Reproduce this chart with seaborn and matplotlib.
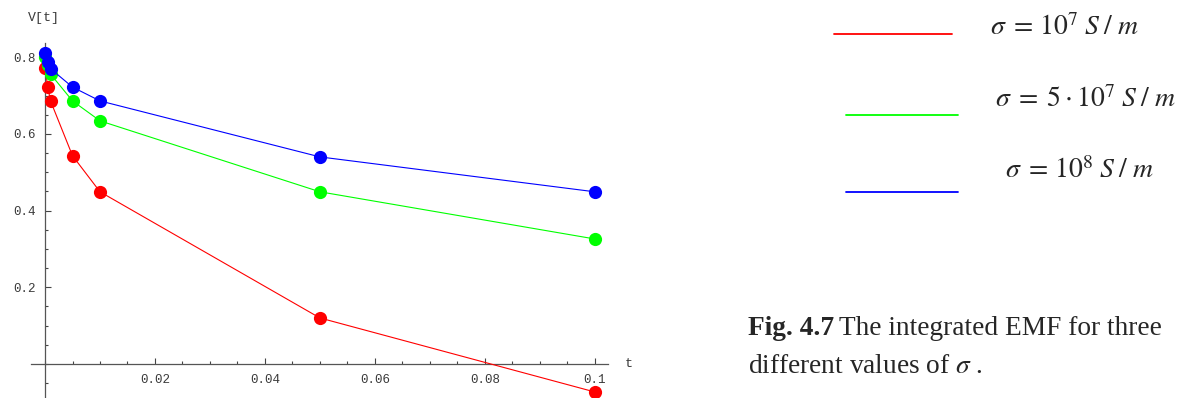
"""
Integrated EMF V[t] for three conductivities (Fig. 4.7 style).
Mathematica-like axes crossing at the origin, legend and caption as text.
"""

import matplotlib.pyplot as plt
from matplotlib.lines import Line2D
from matplotlib.ticker import FixedLocator, MultipleLocator, FixedFormatter
import pandas as pd
import seaborn as sns

# --- Data ----------------------------------------------------------------
T = [0.0, 0.0005, 0.001, 0.005, 0.01, 0.05, 0.1]
V_1E7 = [0.772, 0.722, 0.686, 0.543, 0.449, 0.120, -0.073]
V_5E7 = [0.800, 0.780, 0.756, 0.686, 0.634, 0.449, 0.326]
V_1E8 = [0.810, 0.788, 0.770, 0.722, 0.686, 0.540, 0.449]

SERIES = ["1e7", "5e7", "1e8"]
COLORS = {"1e7": "#ff0000", "5e7": "#00ff00", "1e8": "#0000ff"}
LEGEND_TEXT = {
    "1e7": r"$\sigma\;=\,10^{7}\;S\;/\;m$",
    "5e7": r"$\sigma\;=\;5\cdot 10^{7}\;S\;/\;m$",
    "1e8": r"$\sigma\;=\,10^{8}\;S\;/\;m$",
}

X_MAJOR = [0.02, 0.04, 0.06, 0.08, 0.1]
X_LABELS = ["0.02", "0.04", "0.06", "0.08", "0.1"]
Y_MAJOR = [0.2, 0.4, 0.6, 0.8]
Y_LABELS = ["0.2", "0.4", "0.6", "0.8"]

df = pd.DataFrame({
    "t": T * 3,
    "V": V_1E7 + V_5E7 + V_1E8,
    "sigma": [s for s in SERIES for _ in T],
})

sns.set_style("white")
plt.rcParams["mathtext.fontset"] = "stix"
plt.rcParams["font.family"] = ["Liberation Mono", "DejaVu Sans Mono"]

W, H = 1191, 398
fig = plt.figure(figsize=(W / 100, H / 100), dpi=100)
ax = fig.add_axes([31 / W, 0.0, (608 - 31) / W, 1 - 43 / H])

for s in SERIES:
    sub = df[df["sigma"] == s]
    sns.lineplot(data=sub, x="t", y="V", color=COLORS[s], ax=ax,
                 linewidth=0.8, marker="o", markersize=9.5,
                 markeredgewidth=0, clip_on=False, zorder=3)

ax.set_xlim(-0.00255, 0.1024)
ax.set_ylim(-0.0887, 0.837)
ax.set_xlabel("")
ax.set_ylabel("")

# axes through the origin
for side in ("top", "right"):
    ax.spines[side].set_visible(False)
ax.spines["left"].set_position(("data", 0))
ax.spines["bottom"].set_position(("data", 0))
for side in ("left", "bottom"):
    ax.spines[side].set_color("#555555")
    ax.spines[side].set_linewidth(0.9)

ax.xaxis.set_major_locator(FixedLocator(X_MAJOR))
ax.xaxis.set_major_formatter(FixedFormatter(X_LABELS))
ax.xaxis.set_minor_locator(MultipleLocator(0.005))
ax.yaxis.set_major_locator(FixedLocator(Y_MAJOR))
ax.yaxis.set_major_formatter(FixedFormatter(Y_LABELS))
ax.yaxis.set_minor_locator(MultipleLocator(0.05))
ax.tick_params(which="both", direction="in", color="#444444", width=0.8,
               bottom=True, left=True, labelsize=9, labelcolor="#3a3a3a")
ax.tick_params(which="major", length=4.5)
ax.tick_params(which="minor", length=2.5)
ax.tick_params(axis="x", pad=7.5)
ax.tick_params(axis="y", pad=7)

fig.text(44 / W, 1 - 18 / H, "V[t]", ha="center", va="center",
         fontsize=9.5, color="#3a3a3a")
fig.text(629 / W, 1 - 364 / H, "t", ha="center", va="center",
         fontsize=9.5, color="#3a3a3a")

# --- legend drawn as figure decoration -----------------------------------
legend_rows = {
    "1e7": ((834, 952, 34), (990, 35)),
    "5e7": ((846, 958, 115), (995, 107)),
    "1e8": ((846, 958, 192), (1005, 178)),
}
for s, ((x0, x1, yl), (xt, yt)) in legend_rows.items():
    fig.add_artist(Line2D([x0 / W, x1 / W], [1 - yl / H, 1 - yl / H],
                          color=COLORS[s], linewidth=1.3))
    fig.text(xt / W, 1 - yt / H, LEGEND_TEXT[s], ha="left", va="baseline",
             fontsize=20)

# --- caption -------------------------------------------------------------
serif = ["Liberation Serif", "DejaVu Serif"]
cap = fig.text(748 / W, 1 - 335 / H, "Fig. 4.7", ha="left", va="baseline",
               fontsize=19.7, fontweight="bold", family=serif)
fig.canvas.draw()
bb = cap.get_window_extent()
fig.text(bb.x1 / W + 5 / W, 1 - 335 / H,
         "The integrated EMF for three", ha="left", va="baseline",
         fontsize=19.7, family=serif)
fig.text(748 / W, 1 - 373 / H, r"different values of $\sigma$ .",
         ha="left", va="baseline", fontsize=19.7, family=serif)

fig.savefig("out.png", dpi=100)
